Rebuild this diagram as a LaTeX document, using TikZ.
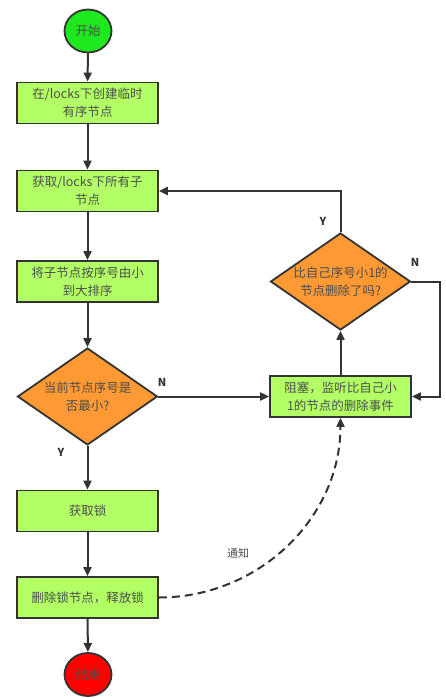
\documentclass[tikz,border=0pt]{standalone}
\usepackage{fontspec}
\setmainfont{Noto Sans CJK SC}
\usetikzlibrary{shapes.geometric,arrows.meta}
\definecolor{boxg}{HTML}{B3FF66}
\definecolor{startg}{HTML}{1EE81E}
\definecolor{diao}{HTML}{FF9933}
\definecolor{endr}{HTML}{FF0000}
\definecolor{ln}{HTML}{333333}
\definecolor{tx}{HTML}{4D4D4D}
\tikzset{
  every node/.style={font=\fontsize{12.5}{18}\selectfont, text=tx},
  proc/.style={draw=ln, line width=1.8pt, fill=boxg, minimum width=141pt, minimum height=41pt, align=center, inner sep=0pt},
  dec/.style={draw=ln, line width=1.8pt, fill=diao, diamond, minimum width=140pt, minimum height=97pt, align=center, inner sep=0pt, aspect=1.45},
  term/.style={draw=ln, line width=1.8pt, ellipse, minimum width=47pt, minimum height=43pt, inner sep=0pt},
  conn/.style={draw=ln, line width=2pt, -{Triangle[length=9pt,width=8pt]}},
  lab/.style={font=\fontsize{11}{13}\selectfont\bfseries, text=ln},
}
\begin{document}
\begin{tikzpicture}[x=1pt,y=-1pt]
\useasboundingbox (0,0) rectangle (446,699);
\node[term, fill=startg] (start) at (88,31) {开始};
\node[proc] (b1) at (87.5,103) {在/locks下创建临时\\有序节点};
\node[proc] (b2) at (87.5,191) {获取/locks下所有子\\节点};
\node[proc] (b3) at (87.5,281.5) {将子节点按序号由小\\到大排序};
\node[dec] (d1) at (87.5,396.5) {当前节点序号是\\否最小?};
\node[proc] (b4) at (87.5,511) {获取锁};
\node[proc] (b5) at (87.5,597.5) {删除锁节点，释放锁};
\node[term, fill=endr] (end) at (88,674.5) {结束};
\node[proc] (blk) at (340.5,396.5) {阻塞，监听比自己小\\1的节点的删除事件};
\node[dec] (d2) at (340.5,281.5) {比自己序号小1的\\节点删除了吗?};
\coordinate (c1) at (340.5,191);
\coordinate (c2) at (440,281.5);
\coordinate (c3) at (440,396.5);

\draw[conn] (start) -- (b1);
\draw[conn] (b1) -- (b2);
\draw[conn] (b2) -- (b3);
\draw[conn] (b3) -- (d1.north);
\draw[conn] (d1.south) -- (b4);
\draw[conn] (b4) -- (b5);
\draw[conn] (b5) -- (end);
\draw[conn] (d1.east) -- (blk.west);
\draw[conn] (blk.north) -- (d2.south);
\draw[conn] (d2.north) -- (c1) -- (b2.east);
\draw[conn] (d2.east) -- (c2) -- (c3) -- (blk.east);
\draw[conn, dash pattern=on 8pt off 5pt] (b5.east) to[out=0,in=-90] (blk.south);

\node[lab] (ln1) at (162,382) {N};
\node[lab] (ly1) at (61,452) {Y};
\node[lab] (ly2) at (323,221) {Y};
\node[lab] (ln2) at (415,262) {N};
\node[font=\fontsize{11}{13}\selectfont] (tz) at (238,553) {通知};
\end{tikzpicture}
\end{document}
